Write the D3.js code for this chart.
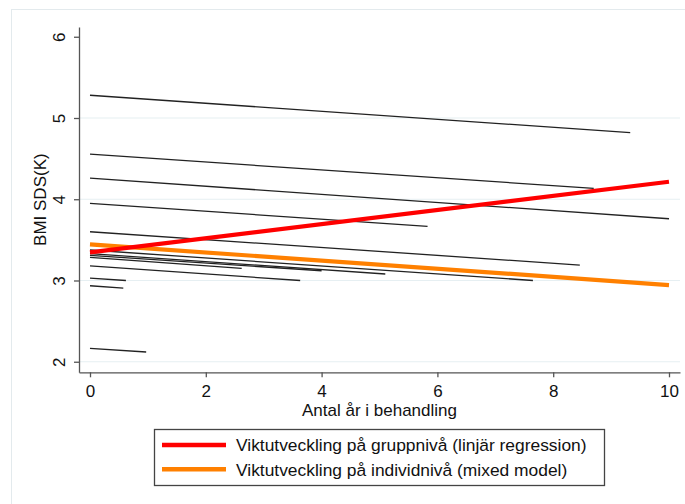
<!DOCTYPE html>
<html>
<head>
<meta charset="utf-8">
<script src="https://cdn.jsdelivr.net/npm/d3@7"></script>
<style>
  html, body { margin: 0; padding: 0; background: #fff; }
  svg { display: block; font-family: "Liberation Sans", Arial, sans-serif; }
</style>
</head>
<body>
<svg id="chart" width="685" height="504"></svg>
<script>
// ---- Data ----
const xTicks = [0, 2, 4, 6, 8, 10];
const yTicks = [2, 3, 4, 5, 6];
const yGrid = [2, 3, 4, 5];

// individual trajectories (start at year 0)
const indStartValue = [5.28, 4.555, 4.26, 3.95, 3.60, 3.375, 3.33, 3.31, 3.285, 3.18, 3.03, 2.935, 2.164];
const indEndYear    = [9.33, 8.70, 10.0, 5.83, 8.46, 7.65, 5.10, 4.00, 2.62, 3.63, 0.62, 0.575, 0.97];
const indEndValue   = [4.82, 4.134, 3.76, 3.665, 3.19, 3.00, 3.08, 3.12, 3.15, 3.00, 3.00, 2.905, 2.12];

const groupYears  = [0, 10];
const groupValues = [3.346, 4.215];   // linjär regression
const mixedYears  = [0, 10];
const mixedValues = [3.445, 2.944];   // mixed model

const legendLabels = [
  "Viktutveckling på gruppnivå (linjär regression)",
  "Viktutveckling på individnivå (mixed model)"
];
const legendColors = ["#ff0000", "#ff8000"];

// ---- Chart ----
const svg = d3.select("#chart");

// faint outer frame
svg.append("rect")
  .attr("x", 11.5).attr("y", 9.5).attr("width", 700).attr("height", 520)
  .attr("fill", "none").attr("stroke", "#e3eaed").attr("stroke-width", 1);

const x = d3.scaleLinear().domain([-0.19, 10.19]).range([79, 680]);
const y = d3.scaleLinear().domain([1.87, 6.12]).range([372.3, 27]);

// gridlines
svg.append("g").selectAll("line").data(yGrid).join("line")
  .attr("x1", x.range()[0]).attr("x2", x.range()[1])
  .attr("y1", d => y(d)).attr("y2", d => y(d))
  .attr("stroke", "#e6eff2").attr("stroke-width", 1.2);

// axes
const yAxis = svg.append("g")
  .attr("transform", `translate(${x.range()[0]},0)`)
  .call(d3.axisLeft(y).tickValues(yTicks).tickSize(5).tickSizeOuter(0).tickFormat(d3.format("d")));
yAxis.select(".domain").attr("stroke", "#555").attr("stroke-width", 1.3);
yAxis.selectAll(".tick line").attr("stroke", "#555").attr("stroke-width", 1.3);
yAxis.selectAll(".tick text")
  .attr("transform", "rotate(-90)")
  .attr("x", 0).attr("y", -14).attr("dy", 0)
  .attr("text-anchor", "middle")
  .attr("font-size", 17).attr("fill", "#111")
  .attr("font-family", "Liberation Sans, Arial, sans-serif");

const xAxis = svg.append("g")
  .attr("transform", `translate(0,${y.range()[0]})`)
  .call(d3.axisBottom(x).tickValues(xTicks).tickSize(5).tickSizeOuter(0).tickFormat(d3.format("d")));
xAxis.select(".domain").attr("stroke", "#555").attr("stroke-width", 1.3);
xAxis.selectAll(".tick line").attr("stroke", "#555").attr("stroke-width", 1.3);
xAxis.selectAll(".tick text")
  .attr("y", 25).attr("dy", 0)
  .attr("font-size", 17).attr("fill", "#111")
  .attr("font-family", "Liberation Sans, Arial, sans-serif");

// axis titles
svg.append("text")
  .attr("x", (x.range()[0] + x.range()[1]) / 2).attr("y", 415.5)
  .attr("text-anchor", "middle").attr("font-size", 17).attr("fill", "#111")
  .text("Antal år i behandling");

svg.append("text")
  .attr("transform", `translate(45.5,${(y.range()[0] + y.range()[1]) / 2}) rotate(-90)`)
  .attr("text-anchor", "middle").attr("font-size", 17).attr("fill", "#111")
  .text("BMI SDS(K)");

// individual lines
const indData = indStartValue.map((v, i) => [[0, v], [indEndYear[i], indEndValue[i]]]);
const lineGen = d3.line().x(d => x(d[0])).y(d => y(d[1]));

svg.append("g").selectAll("path").data(indData).join("path")
  .attr("d", lineGen)
  .attr("fill", "none").attr("stroke", "#222").attr("stroke-width", 1.3);

// mixed model (orange)
svg.append("path")
  .datum(mixedYears.map((t, i) => [t, mixedValues[i]]))
  .attr("d", lineGen)
  .attr("fill", "none").attr("stroke", legendColors[1]).attr("stroke-width", 4.2);

// group regression (red)
svg.append("path")
  .datum(groupYears.map((t, i) => [t, groupValues[i]]))
  .attr("d", lineGen)
  .attr("fill", "none").attr("stroke", legendColors[0]).attr("stroke-width", 4.2);

// legend
const lg = svg.append("g");
lg.append("rect")
  .attr("x", 154.5).attr("y", 429.5).attr("width", 450).attr("height", 56)
  .attr("fill", "#fff").attr("stroke", "#444").attr("stroke-width", 1.3);
const rows = lg.selectAll("g.row").data(legendLabels).join("g").attr("class", "row")
  .attr("transform", (d, i) => `translate(0,${445 + i * 24.3})`);
rows.append("line")
  .attr("x1", 162).attr("x2", 226).attr("y1", 0).attr("y2", 0)
  .attr("stroke", (d, i) => legendColors[i]).attr("stroke-width", 4.5);
rows.append("text")
  .attr("x", 236).attr("y", 6.3)
  .attr("font-size", 17.4).attr("fill", "#111")
  .text(d => d);
</script>
</body>
</html>
